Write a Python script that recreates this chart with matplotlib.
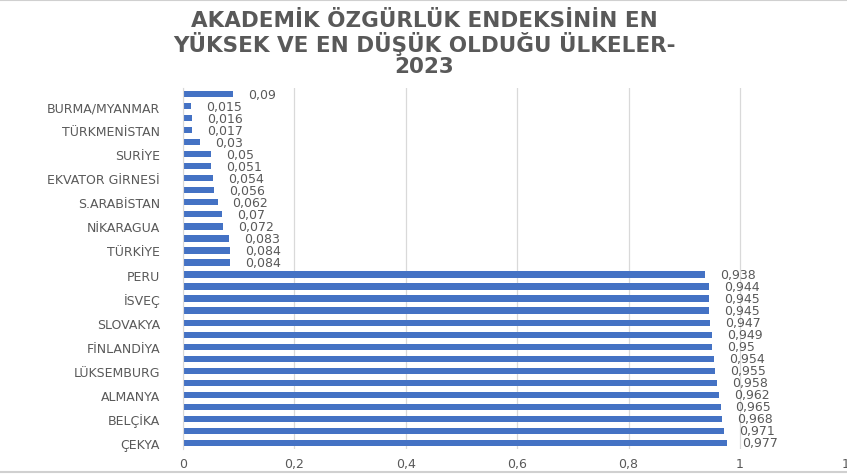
import matplotlib
matplotlib.use("Agg")
import matplotlib.pyplot as plt
from matplotlib.lines import Line2D

# Data (bottom to top)
values = [0.977, 0.971, 0.968, 0.965, 0.962, 0.958, 0.955, 0.954, 0.95, 0.949,
          0.947, 0.945, 0.945, 0.944, 0.938, 0.084, 0.084, 0.083, 0.072, 0.07,
          0.062, 0.056, 0.054, 0.051, 0.05, 0.03, 0.017, 0.016, 0.015, 0.09]
categories = ["ÇEKYA", "", "BELÇİKA", "", "ALMANYA", "", "LÜKSEMBURG", "", "FİNLANDİYA", "",
              "SLOVAKYA", "", "İSVEÇ", "", "PERU", "", "TÜRKİYE", "", "NİKARAGUA", "",
              "S.ARABİSTAN", "", "EKVATOR GİRNESİ", "", "SURİYE", "", "TÜRKMENİSTAN", "",
              "BURMA/MYANMAR", ""]
xticks = [0, 0.2, 0.4, 0.6, 0.8, 1.0, 1.2]
xticklabels = ["0", "0,2", "0,4", "0,6", "0,8", "1", "1,2"]
title = "AKADEMİK ÖZGÜRLÜK ENDEKSİNİN EN\nYÜKSEK VE EN DÜŞÜK OLDUĞU ÜLKELER-\n2023"

def fmt(v):
    s = ("%.3f" % v).rstrip("0").rstrip(".")
    return s.replace(".", ",")

gray = "#595959"
fig = plt.figure(figsize=(8.47, 4.77), dpi=100)
fig.patch.set_facecolor("white")

ax = fig.add_axes([183/847, (477-450)/477, 668.4/847, 361/477])
y = list(range(len(values)))
ax.barh(y, values, height=0.52, color="#4472C4", edgecolor="none", zorder=3)
for yi, v in zip(y, values):
    ax.text(v + 0.027, yi, fmt(v), va="center", ha="left", fontsize=9,
            color=gray, zorder=4)

ax.set_xlim(0, 1.2)
ax.set_ylim(-0.5, len(values) - 0.5)
ax.set_xticks(xticks)
ax.set_xticklabels(xticklabels, fontsize=9, color=gray)
ax.set_yticks(y)
ax.set_yticklabels(categories, fontsize=9, color=gray)
ax.tick_params(axis="both", length=0)
ax.tick_params(axis="y", pad=16.5)
ax.tick_params(axis="x", pad=6)
ax.grid(axis="x", color="#D9D9D9", linewidth=0.9, zorder=0)
for s in ["top", "right", "bottom"]:
    ax.spines[s].set_visible(False)
ax.spines["left"].set_color("#D9D9D9")
ax.spines["left"].set_zorder(5)

fig.text(424/847, 1 - 11/477, title, ha="center", va="top", fontsize=15.5,
         fontweight="bold", color=gray, linespacing=1.06)

fig.add_artist(Line2D([0, 1], [1 - 1/477, 1 - 1/477], color="#D0D0D0", linewidth=1.5,
                      transform=fig.transFigure))
fig.add_artist(Line2D([0, 1], [1 - 473/477, 1 - 473/477], color="#D0D0D0", linewidth=1.5,
                      transform=fig.transFigure))

fig.savefig("out.png", dpi=100)
